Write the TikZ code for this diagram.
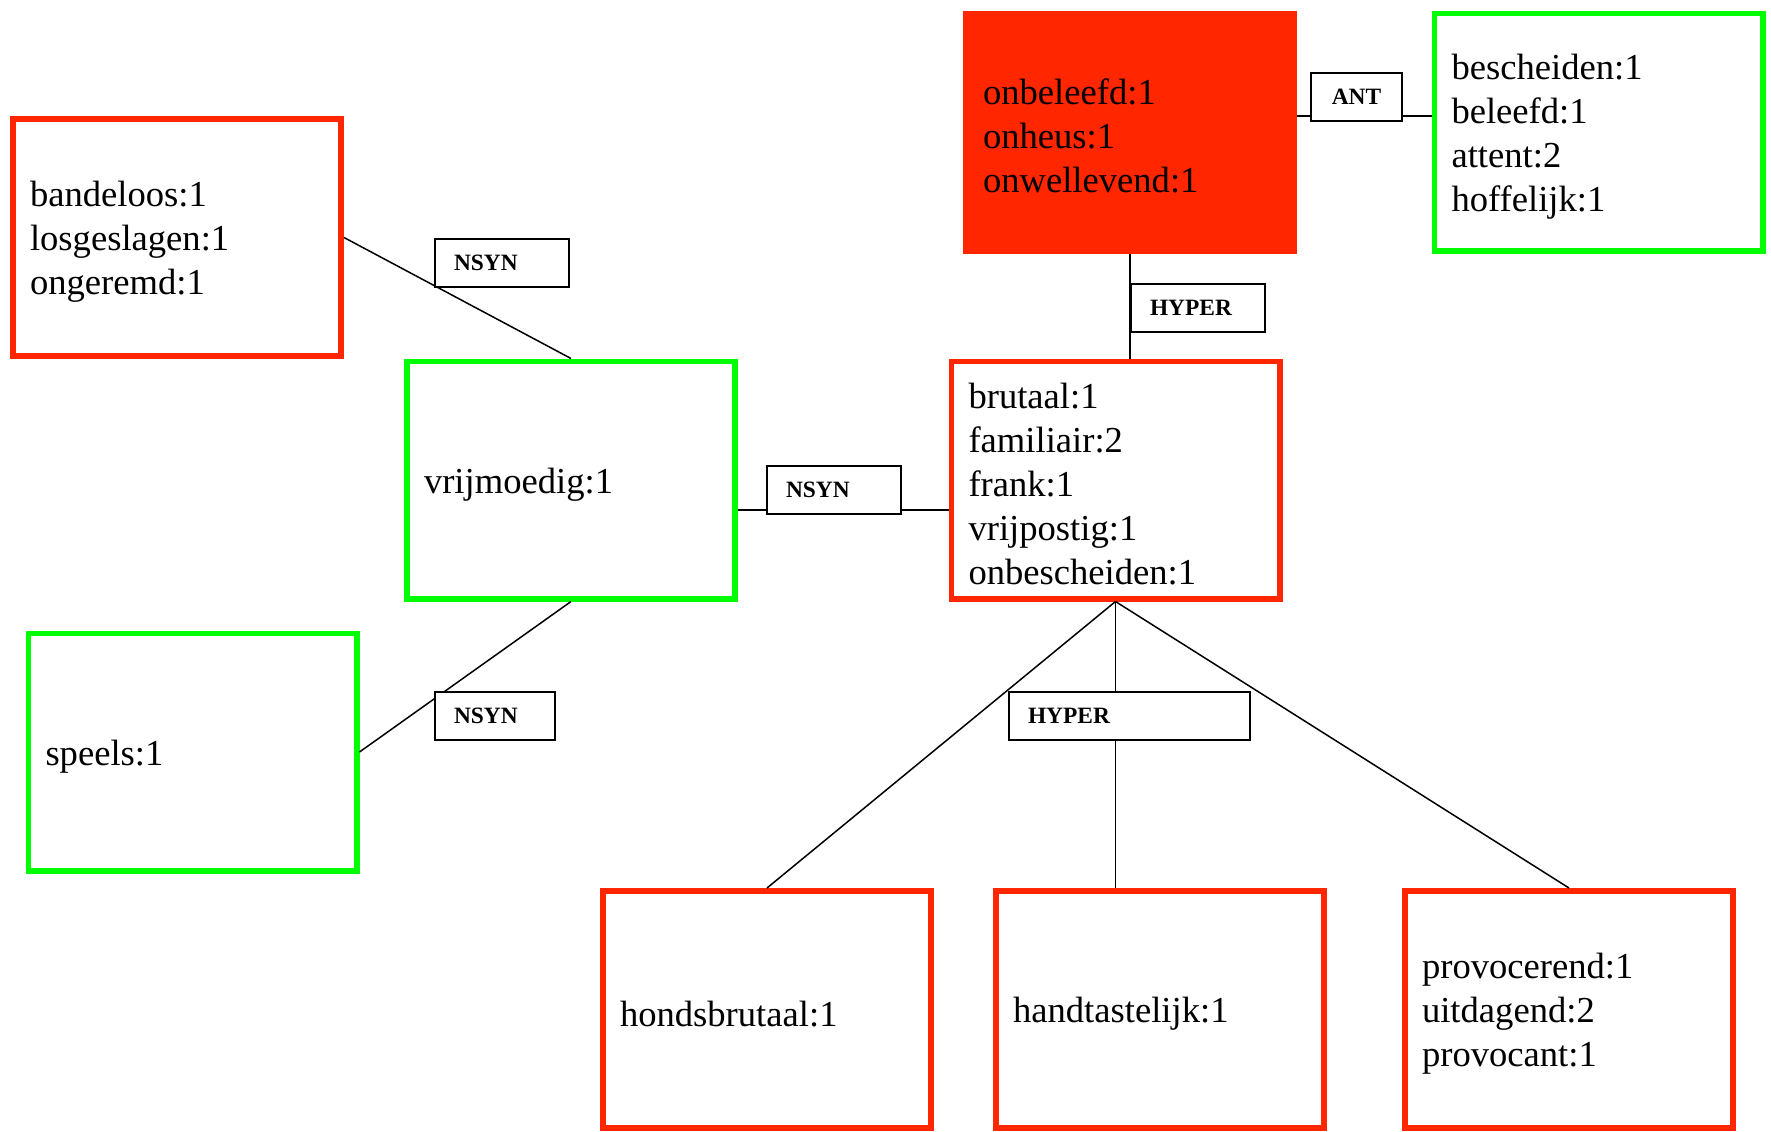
\documentclass[tikz,border=0pt]{standalone}
\usepackage{fontspec}
\setmainfont{Liberation Serif}
\definecolor{boxred}{RGB}{255,38,0}
\definecolor{boxgreen}{RGB}{0,255,0}
\tikzset{
  word/.style={rectangle, line width=2.8pt, minimum width=164.2pt, minimum height=118.7pt,
    inner xsep=8.6pt, inner ysep=0pt, text width=147pt, align=left,
    font=\fontsize{18.3}{22}\selectfont, execute at begin node={\rule{0pt}{17pt}}},
  redbox/.style={word, draw=boxred},
  greenbox/.style={word, draw=boxgreen},
  filledbox/.style={word, draw=boxred, fill=boxred},
  rel/.style={rectangle, draw=black, line width=1pt, fill=white, inner xsep=9.5pt,
    inner ysep=0pt, minimum height=24pt, align=left,
    font=\fontsize{11.7}{14}\selectfont\bfseries},
  conn/.style={draw=black, line width=0.75pt}
}
\begin{document}
\begin{tikzpicture}[x=0.5pt, y=-0.5pt]
\useasboundingbox[fill=white] (0,0) rectangle (1771,1131);

% word groups
\node[redbox] (bandeloos) at (177,237.5) {bandeloos:1\\losgeslagen:1\\ongeremd:1};
\node[greenbox] (vrijmoedig) at (571,480) {vrijmoedig:1};
\node[greenbox] (speels) at (192.5,752) {speels:1};
\node[filledbox] (onbeleefd) at (1130,132) {onbeleefd:1\\onheus:1\\onwellevend:1};
\node[greenbox] (bescheiden) at (1598.5,132) {bescheiden:1\\beleefd:1\\attent:2\\hoffelijk:1};
\node[redbox] (brutaal) at (1115.5,480) {brutaal:1\\familiair:2\\frank:1\\vrijpostig:1\\onbescheiden:1};
\node[redbox] (hondsbrutaal) at (767,1009.5) {hondsbrutaal:1};
\node[redbox] (handtastelijk) at (1160,1009.5) {handtastelijk:1};
\node[redbox] (provocerend) at (1569,1009.5) {provocerend:1\\uitdagend:2\\provocant:1};

% relations
\draw[conn] (bandeloos.east) -- (vrijmoedig.north);
\draw[conn] (vrijmoedig.south) -- (speels.east);
\draw[conn] ([yshift=-15pt]vrijmoedig.east) -- ([yshift=-15pt]brutaal.west);
\draw[conn] ([yshift=8pt]onbeleefd.east) -- ([yshift=8pt]bescheiden.west);
\draw[conn] (onbeleefd.south) -- (onbeleefd.south |- brutaal.north);
\draw[conn] (brutaal.south) -- (hondsbrutaal.north);
\draw[conn] (brutaal.south) -- (brutaal.south |- handtastelijk.north);
\draw[conn] (brutaal.south) -- (provocerend.north);

% relation labels
\node[rel, text width=48pt] (nsyna) at (502,263) {NSYN};
\node[rel, text width=48pt] (nsynb) at (834,490) {NSYN};
\node[rel, text width=41pt] (nsync) at (495,716) {NSYN};
\node[rel, text width=26.5pt, align=center] (ant) at (1356.5,96.5) {ANT};
\node[rel, text width=48pt] (hypera) at (1198,308) {HYPER};
\node[rel, text width=101.5pt] (hyperb) at (1129.5,716) {HYPER};
\end{tikzpicture}
\end{document}
